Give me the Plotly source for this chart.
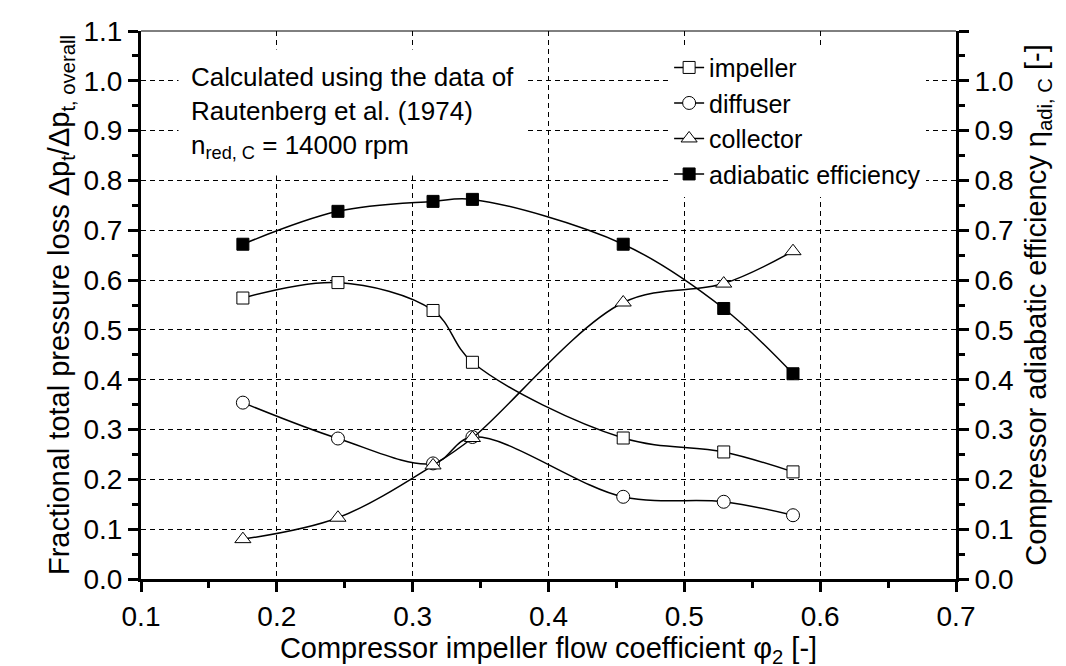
import plotly.graph_objects as go

phi = [0.175, 0.245, 0.315, 0.344, 0.455, 0.529, 0.58]
impeller = [0.564, 0.595, 0.539, 0.435, 0.283, 0.255, 0.215]
diffuser = [0.354, 0.282, 0.232, 0.285, 0.165, 0.155, 0.128]
collector = [0.080, 0.123, 0.228, 0.283, 0.555, 0.593, 0.658]
efficiency = [0.672, 0.738, 0.758, 0.762, 0.672, 0.543, 0.412]

x_ticks = [0.1, 0.2, 0.3, 0.4, 0.5, 0.6, 0.7]
y_ticks = [0.0, 0.1, 0.2, 0.3, 0.4, 0.5, 0.6, 0.7, 0.8, 0.9, 1.0, 1.1]
y2_ticks = y_ticks
y2_labels = ["%.1f" % v for v in y_ticks[:-1]] + [""]

FONT = "Liberation Sans, Arial, sans-serif"
line = dict(color="black", width=1.5, shape="spline", smoothing=1.0)

fig = go.Figure()
fig.add_trace(go.Scatter(x=phi, y=impeller, name="impeller", mode="lines+markers",
                         line=line, marker=dict(symbol="square", size=12, color="white",
                                                line=dict(color="black", width=1))))
fig.add_trace(go.Scatter(x=phi, y=diffuser, name="diffuser", mode="lines+markers",
                         line=line, marker=dict(symbol="circle", size=13, color="white",
                                                line=dict(color="black", width=1))))
fig.add_trace(go.Scatter(x=phi, y=collector, name="collector", mode="lines+markers",
                         line=line, marker=dict(symbol="triangle-up", size=14, color="white",
                                                line=dict(color="black", width=1))))
fig.add_trace(go.Scatter(x=phi, y=efficiency, name="adiabatic efficiency", mode="lines+markers",
                         yaxis="y2", line=line,
                         marker=dict(symbol="square", size=12, color="black",
                                     line=dict(color="black", width=1))))

axis_common = dict(showline=True, linecolor="black", linewidth=3, ticks="outside",
                   ticklen=10, tickwidth=3, tickcolor="black", zeroline=False,
                   automargin=False,
                   tickfont=dict(family=FONT, size=28, color="black"))
minor = dict(dtick=0.05, ticks="outside", ticklen=6, tickwidth=3, tickcolor="black", showgrid=False)

fig.update_layout(
    template="none",
    width=1066, height=666,
    margin=dict(l=133, r=118, t=23, b=95),
    paper_bgcolor="white", plot_bgcolor="white",
    font=dict(family=FONT, size=26, color="black"),
    xaxis=dict(range=[0.1, 0.7], tickvals=x_ticks, tickformat=".1f",
               showgrid=True, gridcolor="black", gridwidth=1, griddash="5px,4px",
               minor=minor,
               title=dict(text="Compressor impeller flow coefficient φ<sub>2</sub> [-]",
                          font=dict(family=FONT, size=29), standoff=3),
               **axis_common),
    yaxis=dict(range=[0, 1.1], tickvals=y_ticks, tickformat=".1f",
               showgrid=True, gridcolor="black", gridwidth=1, griddash="5px,4px",
               minor=minor,
               title=dict(text="Fractional total pressure loss Δp<sub>t</sub>/Δp<sub>t, overall</sub>",
                          font=dict(family=FONT, size=29), standoff=6),
               **axis_common),
    yaxis2=dict(range=[0, 1.1], overlaying="y", side="right", tickvals=y2_ticks, ticktext=y2_labels,
                showgrid=False,
                minor=minor,
                title=dict(text="Compressor adiabatic efficiency η<sub>adi, C</sub> [-]",
                           font=dict(family=FONT, size=29), standoff=14),
                **axis_common),
    legend=dict(x=0.648, y=0.975, xanchor="left", yanchor="top", bgcolor="white",
                borderwidth=0,
                font=dict(family=FONT, size=25, color="black"), tracegroupgap=0),
    showlegend=True,
)

fig.add_shape(type="line", xref="paper", yref="paper", x0=0, x1=1, y0=1, y1=1,
              line=dict(color="black", width=1))

fig.add_annotation(xref="paper", yref="paper", x=0.045, y=0.967, xanchor="left", yanchor="top",
                   align="left", showarrow=False, bgcolor="white", borderpad=12,
                   text="Calculated using the data of<br>Rautenberg et al. (1974)<br>n<sub>red, C</sub> = 14000 rpm",
                   font=dict(family=FONT, size=26, color="black"))

fig.write_html("out.html")
